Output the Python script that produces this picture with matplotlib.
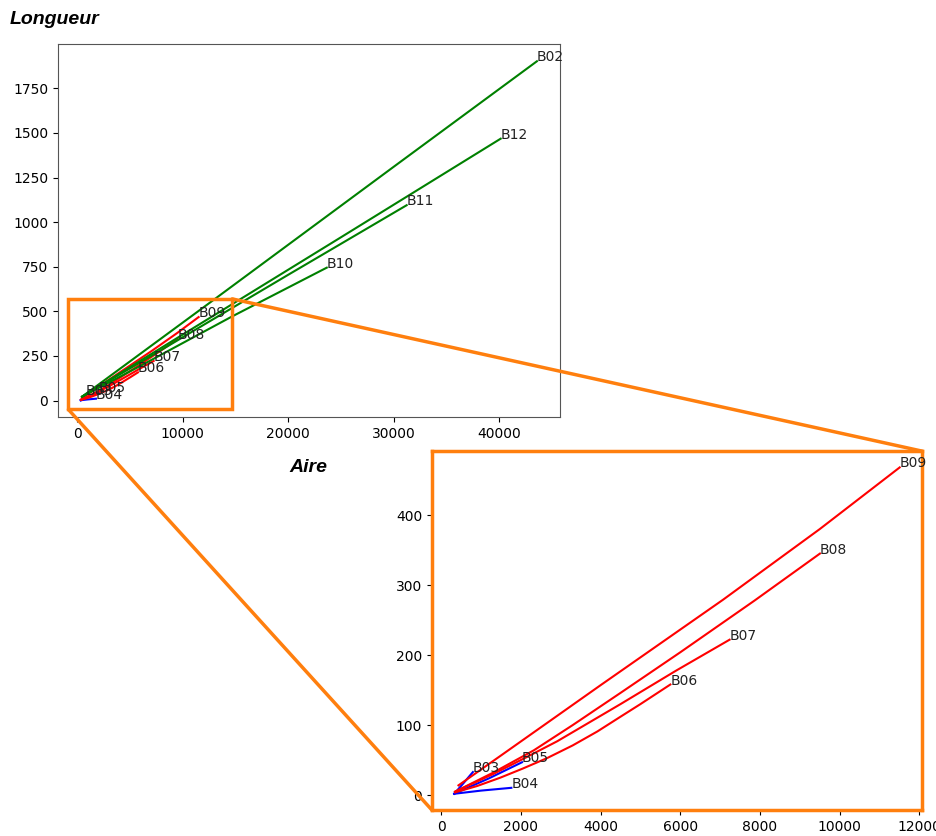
import matplotlib
matplotlib.use('Agg')
from matplotlib import pyplot as plt
from matplotlib.patches import ConnectionPatch

# Longueur en fonction de l'aire, un trait par bassin
noms = ['B02', 'B03', 'B04', 'B05', 'B06', 'B07', 'B08', 'B09', 'B10', 'B11', 'B12']
couleurs = {'B02': 'g', 'B03': 'b', 'B04': 'b', 'B05': 'b',
            'B06': 'r', 'B07': 'r', 'B08': 'r', 'B09': 'r',
            'B10': 'g', 'B11': 'g', 'B12': 'g'}

aire = {
    'B02': [450, 5000, 13240, 30000, 43600],
    'B03': [330, 560, 798],
    'B04': [330, 1000, 1763],
    'B05': [330, 1200, 2030],
    'B06': [350, 900, 1486, 2050, 2662, 3300, 3921, 4500, 5000, 5751],
    'B07': [350, 1300, 2100, 2914, 4500, 5900, 7237],
    'B08': [350, 1300, 2325, 3300, 4500, 6000, 7866, 9504],
    'B09': [436, 1486, 4000, 7071, 9500, 11504],
    'B10': [450, 6000, 14660, 23660],
    'B11': [450, 8000, 20000, 31240],
    'B12': [450, 10000, 25000, 40160],
}
longueur = {
    'B02': [22, 220, 578, 1310, 1902],
    'B03': [2, 17, 33],
    'B04': [2, 6.5, 10.5],
    'B05': [2, 24, 47],
    'B06': [4, 13, 25, 38, 53, 71, 91, 112, 130, 158],
    'B07': [5, 30, 53, 77, 130, 178, 222],
    'B08': [5, 32, 64, 100, 146, 204, 278, 345],
    'B09': [14, 56, 157, 279, 380, 468],
    'B10': [22, 195, 471, 745],
    'B11': [22, 285, 705, 1095],
    'B12': [22, 370, 915, 1468],
}

# bassins repris dans le zoom
noms_zoom = ['B03', 'B04', 'B05', 'B06', 'B07', 'B08', 'B09']
zone_zoom = (-850, -50, 15540, 620)

orange = '#ff7f0e'

fig = plt.figure(figsize=(9.36, 8.36), dpi=100)
ax = fig.add_axes([0.062, 0.501, 0.536, 0.446])
axins = fig.add_axes([0.4615, 0.031, 0.5235, 0.4294])

for nom in noms:
    x, y = aire[nom], longueur[nom]
    ax.plot(x, y, color=couleurs[nom], linewidth=1.5)
    ax.text(x[-1], y[-1], nom, fontsize=10, color='#222222')
    if nom in noms_zoom:
        axins.plot(x, y, color=couleurs[nom], linewidth=1.5)
        axins.text(x[-1], y[-1], nom, fontsize=10, color='#222222')

titre = dict(fontsize=14, fontweight='bold', fontstyle='italic', family='Liberation Sans')
ax.set_xlabel('Aire', labelpad=13, **titre)
fig.text(0.0107, 0.977, 'Longueur', va='center', ha='left', **titre)

for s in ax.spines.values():
    s.set_edgecolor('#555555')

# cadre du zoom + traits de liaison
ax.indicate_inset(bounds=zone_zoom, edgecolor=orange, linewidth=2.5, alpha=1)
x0, y0, w, h = zone_zoom
for coin_a, coin_b in [((x0, y0), (0, 0)), ((x0 + w, y0 + h), (1, 1))]:
    cp = ConnectionPatch(xyA=coin_a, coordsA=ax.transData,
                         xyB=coin_b, coordsB=axins.transAxes,
                         color=orange, linewidth=2.5, clip_on=False, zorder=5)
    fig.add_artist(cp)

for s in axins.spines.values():
    s.set_edgecolor(orange)
    s.set_linewidth(2.5)

fig.savefig('out.png')
